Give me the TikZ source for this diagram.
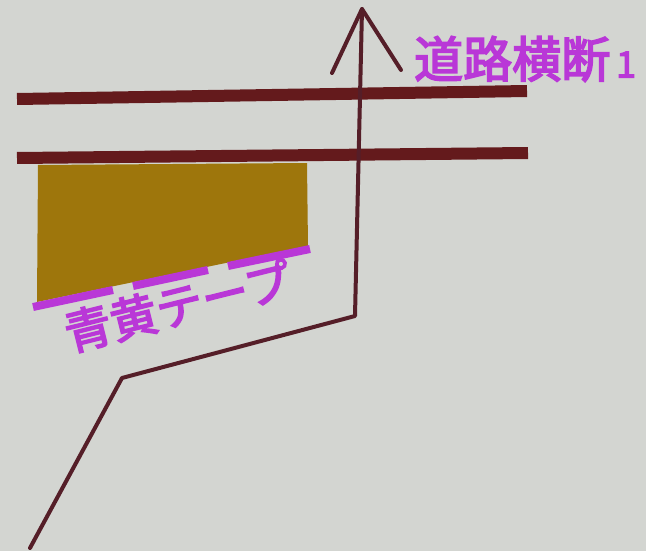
\documentclass[tikz,border=0pt]{standalone}
\usepackage{fontspec}
\newfontfamily\cjk[FakeBold=3.5]{Noto Sans CJK JP}
\definecolor{bg}{RGB}{211,213,209}
\definecolor{road}{RGB}{100,26,28}
\definecolor{olive}{RGB}{158,118,12}
\definecolor{mag}{RGB}{185,55,215}
\definecolor{pathc}{RGB}{85,30,40}
\tikzset{
  roadline/.style={draw=road,line width=12pt},
  tape/.style={draw=mag,line width=8pt},
  route/.style={draw=pathc,line width=4pt,line join=round,line cap=round},
  lbl/.style={text=mag,font=\cjk\fontsize{49}{49}\selectfont,inner sep=0pt},
  tlbl/.style={text=mag,font=\cjk\fontsize{47}{47}\selectfont,inner sep=0pt}
}
\begin{document}
\begin{tikzpicture}[x=1pt,y=-1pt]
\fill[bg] (0,0) rectangle (646,551);
\useasboundingbox (0,0) rectangle (646,551);
% olive block
\fill[olive] (38,165) -- (307,163) -- (308,246) -- (37,302) -- cycle;
% road lines
\coordinate (r1a) at (17,99); \coordinate (r1b) at (527,91);
\coordinate (r2a) at (17,158); \coordinate (r2b) at (528,153);
\draw[roadline] (r1a) -- (r1b);
\draw[roadline] (r2a) -- (r2b);
% tape dashes
\coordinate (t0) at (33,307);
\coordinate (t1) at (113,290);
\coordinate (t2) at (133,286);
\coordinate (t3) at (208,270);
\coordinate (t4) at (228,266);
\coordinate (t5) at (310,249);
\draw[tape] (t0) -- (t1);
\draw[tape] (t2) -- (t3);
\draw[tape] (t4) -- (t5);
% route with arrow
\coordinate (p0) at (30,548);
\coordinate (p1) at (122,378);
\coordinate (p2) at (355,316);
\coordinate (tip) at (362,9);
\coordinate (al) at (332,73);
\coordinate (ar) at (401,70);
\draw[route] (p0) -- (p1) -- (p2) -- (tip);
\draw[route] (al) -- (tip) -- (ar);
% labels
\node[lbl,anchor=west] (road) at (414,59) {道路横断\hspace{6pt}{\fontsize{36}{36}\selectfont 1}};
\node[tlbl,rotate=14] (tapelbl) at (178,306) {青黄テープ};
\end{tikzpicture}
\end{document}
